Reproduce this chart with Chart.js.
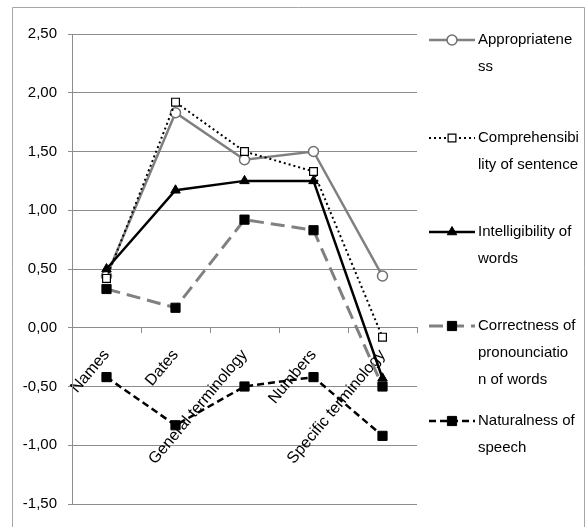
<!DOCTYPE html>
<html>
<head>
<meta charset="utf-8">
<script src="https://cdn.jsdelivr.net/npm/chart.js@4.4.1/dist/chart.umd.min.js"></script>
<style>
  html, body { margin: 0; padding: 0; background: #fff; }
  #wrap { width: 586px; height: 527px; position: relative; }
</style>
</head>
<body>
<div id="wrap"><canvas id="c"></canvas></div>
<script>
// ---- data ----
const categories = ['Names', 'Dates', 'General terminology', 'Numbers', 'Specific terminology'];
const seriesNames = ['Appropriateness', 'Comprehensibility of sentence', 'Intelligibility of words', 'Correctness of pronounciation of words', 'Naturalness of speech'];
const legendLines = [
  ['Appropriatene', 'ss'],
  ['Comprehensibi', 'lity of sentence'],
  ['Intelligibility of', 'words'],
  ['Correctness of', 'pronounciatio', 'n of words'],
  ['Naturalness of', 'speech']
];
const appropriateness   = [0.44, 1.83, 1.43, 1.50, 0.44];
const comprehensibility = [0.42, 1.92, 1.50, 1.33, -0.08];
const intelligibility   = [0.50, 1.17, 1.25, 1.25, -0.43];
const correctness       = [0.33, 0.17, 0.92, 0.83, -0.50];
const naturalness       = [-0.42, -0.83, -0.50, -0.42, -0.92];
const yTickLabels = ['-1,50', '-1,00', '-0,50', '0,00', '0,50', '1,00', '1,50', '2,00', '2,50'];

const FONT = "'Liberation Sans', Arial, sans-serif";
const GRID = '#8c8c8c';

const styles = [
  { borderColor: '#808080', borderWidth: 2.5, borderDash: [], pointStyle: 'circle', pointRadius: 5, pointBackgroundColor: '#ffffff', pointBorderColor: '#707070', pointBorderWidth: 1.5 },
  { borderColor: '#000000', borderWidth: 2, borderDash: [2, 3], pointStyle: 'rect', pointRadius: 5.5, pointBackgroundColor: '#ffffff', pointBorderColor: '#000000', pointBorderWidth: 1.2 },
  { borderColor: '#000000', borderWidth: 2.5, borderDash: [], pointStyle: 'triangle', pointRadius: 5.5, pointBackgroundColor: '#000000', pointBorderColor: '#000000', pointBorderWidth: 1 },
  { borderColor: '#808080', borderWidth: 3, borderDash: [14, 7], pointStyle: 'rect', pointRadius: 6.5, pointBackgroundColor: '#000000', pointBorderColor: '#000000', pointBorderWidth: 1 },
  { borderColor: '#000000', borderWidth: 2.5, borderDash: [7, 4], pointStyle: 'rect', pointRadius: 6.5, pointBackgroundColor: '#000000', pointBorderColor: '#000000', pointBorderWidth: 1 }
];
const seriesValues = [appropriateness, comprehensibility, intelligibility, correctness, naturalness];

const datasets = seriesValues.map((vals, i) => Object.assign({
  label: seriesNames[i],
  data: vals,
  fill: false,
  tension: 0,
  order: 5 - i,
  pointHoverRadius: styles[i].pointRadius
}, styles[i]));

const frame = {
  id: 'frame',
  beforeDraw(chart) {
    const ctx = chart.ctx;
    ctx.save();
    ctx.strokeStyle = '#a6a6a6';
    ctx.lineWidth = 1;
    ctx.beginPath();
    ctx.moveTo(12.5, 540);
    ctx.lineTo(12.5, 7.5);
    ctx.lineTo(584.5, 7.5);
    ctx.lineTo(584.5, 540);
    ctx.stroke();
    ctx.restore();
  }
};

const customLegend = {
  id: 'customLegend',
  afterDraw(chart) {
    const ctx = chart.ctx;
    const itemY = [40, 138, 232, 326, 421];
    const lineH = 27;
    const x0 = 429, x1 = 475, tx = 478;
    ctx.save();
    chart.data.datasets.forEach((ds, i) => {
      const y = itemY[i];
      ctx.save();
      ctx.strokeStyle = ds.borderColor;
      ctx.lineWidth = ds.borderWidth;
      ctx.setLineDash(ds.borderDash || []);
      ctx.beginPath();
      ctx.moveTo(x0, y);
      ctx.lineTo(x1, y);
      ctx.stroke();
      ctx.restore();
      ctx.save();
      ctx.fillStyle = ds.pointBackgroundColor;
      ctx.strokeStyle = ds.pointBorderColor;
      ctx.lineWidth = ds.pointBorderWidth;
      Chart.helpers.drawPoint(ctx, { pointStyle: ds.pointStyle, radius: ds.pointRadius, borderWidth: ds.pointBorderWidth, rotation: 0 }, (x0 + x1) / 2, y);
      ctx.restore();
      ctx.fillStyle = '#000';
      ctx.font = '15px ' + FONT;
      ctx.textBaseline = 'middle';
      ctx.textAlign = 'left';
      legendLines[i].forEach((t, k) => ctx.fillText(t, tx, y + k * lineH));
    });
    ctx.restore();
  }
};

new Chart(document.getElementById('c'), {
  type: 'line',
  data: { labels: categories, datasets },
  plugins: [frame, customLegend],
  options: {
    responsive: true,
    maintainAspectRatio: false,
    animation: false,
    events: [],
    layout: { padding: { left: 12, right: 169, top: 34, bottom: 23 } },
    plugins: { legend: { display: false }, tooltip: { enabled: false } },
    scales: {
      x: {
        type: 'category',
        position: { y: 0 },
        offset: true,
        grid: { offset: true, drawOnChartArea: false, drawTicks: true, tickLength: 5, color: GRID, lineWidth: 1 },
        border: { display: true, color: GRID, width: 1 },
        ticks: { minRotation: 50, maxRotation: 50, autoSkip: false, padding: 13, color: '#000', font: { family: FONT, size: 16 } }
      },
      y: {
        min: -1.5,
        max: 2.5,
        afterFit(scale) { scale.width = 60; },
        ticks: {
          stepSize: 0.5,
          padding: 11,
          color: '#000',
          font: { family: FONT, size: 15 },
          callback: (v, idx) => yTickLabels[idx]
        },
        grid: { color: GRID, lineWidth: 1, tickLength: 4, drawTicks: true },
        border: { display: true, color: GRID, width: 1 }
      }
    }
  }
});
</script>
</body>
</html>
